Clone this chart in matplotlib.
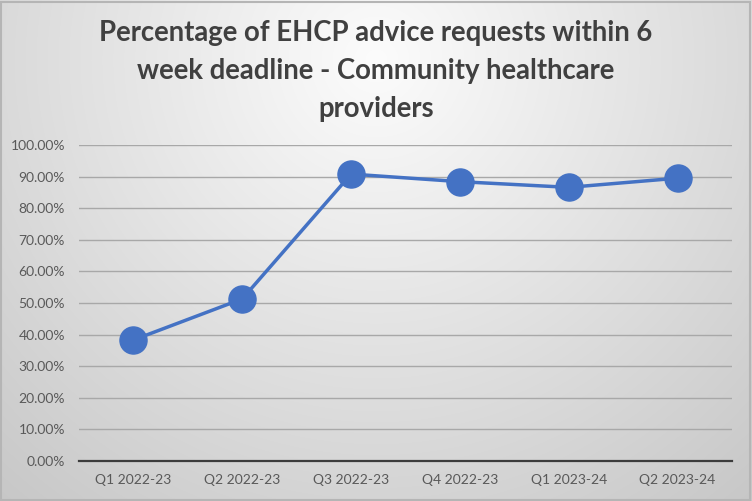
import numpy as np
import matplotlib
matplotlib.use("Agg")
import matplotlib.pyplot as plt
from matplotlib.patches import Rectangle
from matplotlib.ticker import PercentFormatter

categories = ["Q1 2022-23", "Q2 2022-23", "Q3 2022-23", "Q4 2022-23", "Q1 2023-24", "Q2 2023-24"]
values = [0.383, 0.513, 0.908, 0.884, 0.866, 0.895]
yticks = [0.0, 0.1, 0.2, 0.3, 0.4, 0.5, 0.6, 0.7, 0.8, 0.9, 1.0]
title = "Percentage of EHCP advice requests within 6\nweek deadline - Community healthcare\nproviders"

W, H, DPI = 752, 501, 100
plt.rcParams['font.family'] = ['Lato', 'DejaVu Sans']
fig = plt.figure(figsize=(W / DPI, H / DPI), dpi=DPI)

# radial gradient background
bg = fig.add_axes([0, 0, 1, 1], zorder=-10)
yy, xx = np.mgrid[0:H, 0:W]
d = np.sqrt((xx - 376) ** 2 + ((yy - 60) * 1.0) ** 2)
val = 252 - 52 * np.clip(d / 570, 0, 1)
img = np.dstack([val, val, val]) / 255.0
bg.imshow(img, aspect='auto', extent=[0, 1, 0, 1], origin='upper')
bg.set_axis_off()
bg.add_patch(Rectangle((0.001, 0.002), 0.997, 0.995, transform=bg.transAxes,
                       fill=False, edgecolor='#b5b5b5', lw=1.5))

ax = fig.add_axes([79 / W, 1 - 461 / H, (732 - 79) / W, (461 - 145) / H])
ax.patch.set_alpha(0)
x = np.arange(len(categories))
ax.plot(x, values, color='#4472C4', lw=2.5, marker='o', markersize=19.5,
        markerfacecolor='#4472C4', markeredgecolor='#4472C4', zorder=3, clip_on=False)
ax.set_xlim(-0.5, len(categories) - 0.5)
ax.set_ylim(0, 1)
ax.set_yticks(yticks)
ax.yaxis.set_major_formatter(PercentFormatter(1.0, decimals=2))
ax.set_xticks(x)
ax.set_xticklabels(categories)
ax.grid(axis='y', color='#a8a8a8', lw=1.0)
ax.set_axisbelow(True)
for s in ['left', 'right', 'top']:
    ax.spines[s].set_visible(False)
ax.spines['bottom'].set_color('#3c3c3c')
ax.spines['bottom'].set_linewidth(1.6)
ax.tick_params(axis='both', length=0, colors='#595959', labelsize=10)
ax.tick_params(axis='y', pad=10)
ax.tick_params(axis='x', pad=9)

fig.text(0.5, 1 - 71 / H, title, ha='center', va='center', fontsize=19.8,
         fontweight='bold', color='#404040', linespacing=1.55)

fig.savefig("out.png", dpi=DPI)
